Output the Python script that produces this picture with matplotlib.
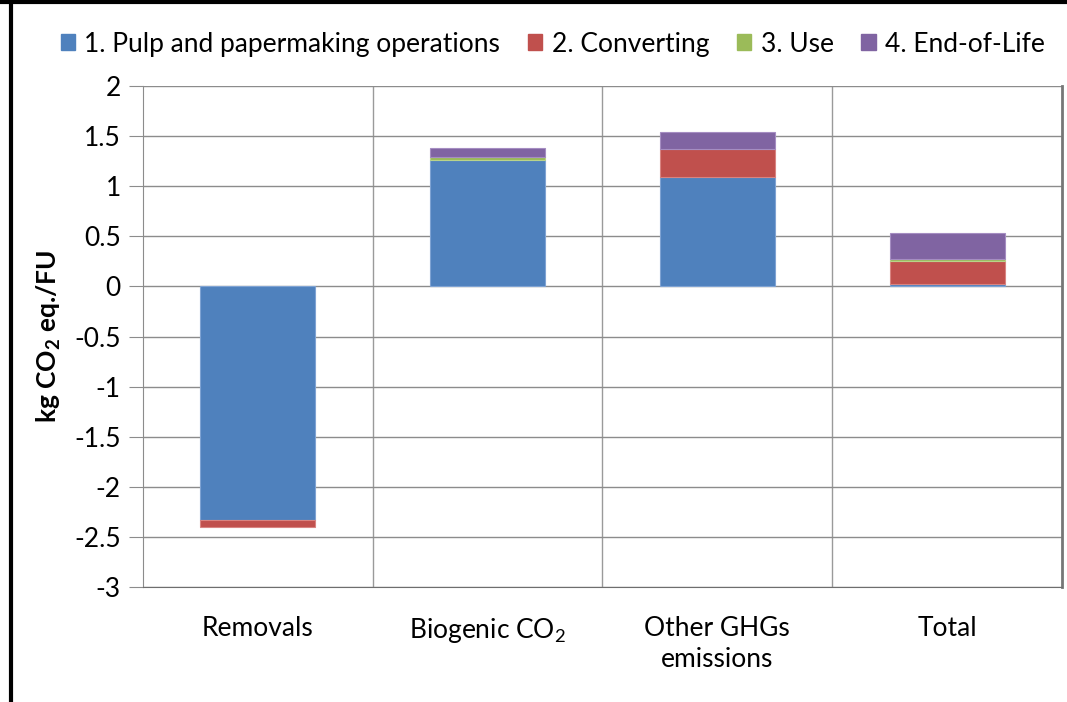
import numpy as np
import matplotlib.pyplot as plt
from matplotlib.lines import Line2D
from matplotlib.patches import Patch

plt.rcParams["font.family"] = ["Lato", "DejaVu Sans"]
plt.rcParams["mathtext.fontset"] = "custom"
plt.rcParams["mathtext.rm"] = "Lato"
plt.rcParams["mathtext.bf"] = "Lato:bold"

categories = ["Removals", "Biogenic CO$_\\mathrm{2}$", "Other GHGs\nemissions", "Total"]
series_names = ["1. Pulp and papermaking operations", "2. Converting", "3. Use",
                "4. End-of-Life"]
pulp = [-2.33, 1.265, 1.09, 0.02]
converting = [-0.07, 0.0, 0.285, 0.23]
use = [0.0, 0.026, 0.0, 0.026]
end_of_life = [0.0, 0.094, 0.163, 0.256]
colors = ["#4F81BD", "#C0504D", "#9BBB59", "#8064A2"]
edges = ["#7FA3D3", "#D98481", "#B9D38A", "#A58DC2"]

fig = plt.figure(figsize=(10.67, 7.02), dpi=100)
ax = fig.add_axes([0.134, 0.1638, 0.8613, 0.7137])

x = np.arange(len(categories))
pos = np.zeros(len(categories))
neg = np.zeros(len(categories))
for vals, c, ec in zip([pulp, converting, use, end_of_life], colors, edges):
    v = np.array(vals)
    base = np.where(v >= 0, pos, neg)
    nz = v != 0
    ax.bar(x[nz], v[nz], 0.5, bottom=base[nz], color=c, edgecolor=ec,
           linewidth=0.8, zorder=3)
    pos += np.where(v >= 0, v, 0)
    neg += np.where(v < 0, v, 0)

fs = 19
ax.set_xlim(-0.5, 3.5)
ax.set_ylim(-3, 2)
ax.set_yticks(np.arange(-3, 2.01, 0.5))
ax.set_yticklabels([f"{t:g}" for t in np.arange(-3, 2.01, 0.5)])
ax.yaxis.grid(True, color="#8c8c8c", lw=1.0, zorder=0)
for b in [0.5, 1.5, 2.5]:
    ax.axvline(b, color="#9a9a9a", lw=1.0, zorder=0)
ax.set_xticks(x)
ax.set_xticklabels(categories, fontsize=fs, va="top", linespacing=1.3)
ax.tick_params(axis="x", length=0, pad=21)
ax.tick_params(axis="y", length=10, color="#8c8c8c", labelsize=fs, pad=6)
ax.spines["top"].set_visible(False)
ax.spines["left"].set_color("#8c8c8c")
ax.spines["bottom"].set_color("#6e6e6e")
ax.spines["right"].set_color("#777777")
ax.spines["right"].set_linewidth(2)

ax.set_ylabel("kg CO$_\\mathbf{2}$ eq./FU", fontsize=fs, fontweight="bold", labelpad=8)

handles = [Patch(color=c) for c in colors]
fig.legend(handles, series_names, loc="center", bbox_to_anchor=(0.518, 0.937),
           ncol=4, frameon=False, fontsize=fs, handlelength=0.55, handleheight=0.55,
           handletextpad=0.35, columnspacing=1.05)

# outer frame of the original figure
fig.add_artist(Line2D([0.0105, 0.0105], [0, 1], color="black", lw=3,
                      transform=fig.transFigure))
fig.add_artist(Line2D([0, 1], [0.997, 0.997], color="black", lw=3,
                      transform=fig.transFigure))

fig.savefig("out.png", dpi=100)
